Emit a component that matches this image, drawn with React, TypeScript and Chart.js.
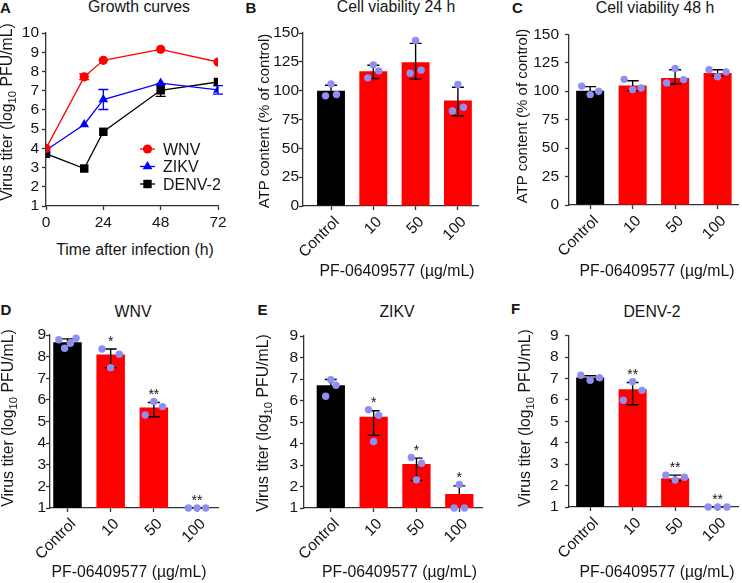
import React, { useEffect, useRef } from 'react';
import { Chart, registerables } from 'chart.js';

Chart.register(...registerables);

const FONT = "'Liberation Sans', Arial, Helvetica, sans-serif";
const TXT = '#151515';
const AXIS = '#333333';
const DOT = '#8f8ff2';
const TICK_SIZE = 15.5;

// ---------- Panel A: growth curves ----------
const hours = [0, 16, 24, 48, 72];
const wnvTiter = [4.0, 7.72, 8.58, 9.15, 8.49];
const wnvSd = [0.05, 0.15, 0.05, 0.05, 0.05];
const zikvTiter = [3.9, 5.24, 6.54, 7.39, 7.04];
const zikvSd = [0.05, 0.08, 0.52, 0.08, 0.22];
const denvTiter = [3.72, 2.95, 4.86, 7.02, 7.45];
const denvSd = [0.05, 0.05, 0.05, 0.32, 0.08];
const seriesNames = ['WNV', 'ZIKV', 'DENV-2'];
const seriesColors = ['#ff0000', '#0000ff', '#000000'];

// ---------- bar panels ----------
const doseLabels = ['Control', '10', '50', '100'];
const barColors = ['#000000', '#ff0000', '#ff0000', '#ff0000'];

const viab24Mean = [100, 116.9, 124.7, 91.4];
const viab24Low = [95.3, 110.5, 110, 78.3];
const viab24High = [104.7, 122.1, 141, 103];
const viab24Dots = [[95.5, 105.9, 96.6], [111.1, 122.4, 117.2], [115.2, 143.6, 117.8], [82.4, 105.3, 85.6]];

const viab48Mean = [100.3, 104.9, 111.6, 116.0];
const viab48Low = [96.7, 100.5, 106.3, 113.3];
const viab48High = [104, 109.2, 118.8, 118.8];
const viab48Dots = [[104.5, 97, 100], [110.4, 101.4, 102.8], [107.3, 120, 110.2], [118.8, 112.7, 117]];

const wnvMean = [8.66, 8.1, 5.65, 1];
const wnvLow = [8.5, 7.49, 5.22, 1];
const wnvHigh = [8.82, 8.35, 5.88, 1];
const wnvDots = [[8.78, 8.39, 8.62, 8.85], [8.35, 7.49, 8.11], [5.3, 5.93, 5.69], [1, 1, 1]];
const wnvStars = ['', '*', '**', '**'];

const zikvMean = [6.71, 5.25, 3.05, 1.65];
const zikvLow = [6.44, 4.38, 2.28, 1.65];
const zikvHigh = [6.98, 5.52, 3.32, 2.03];
const zikvDots = [[6.2, 6.97, 6.71], [5.57, 4.09, 5.31], [3.35, 2.31, 3.08], [1.0, 2.09, 1.0]];
const zikvStars = ['', '*', '*', '*'];

const denvMean = [7.05, 6.5, 2.34, 1];
const denvLow = [6.89, 5.78, 2.23, 1];
const denvHigh = [7.13, 6.82, 2.49, 1];
const denvDots = [[7.16, 6.92, 7.04], [5.99, 6.85, 6.45], [2.49, 2.26, 2.39], [1, 1, 1]];
const denvStars = ['', '**', '**', '**'];

const titerTicks = { min: 1, max: 9, step: 1 };
const atpTicks = { min: 0, max: 150, step: 25 };

type Geo = { l: number; t: number; r: number; b: number; yW: number; xH: number; rp: number; yPad: number };
const TOPPAD = 14;

function rectOf(g: Geo) {
  const left = g.l - g.yW;
  const top = g.t - TOPPAD;
  return { left, top, width: g.r + g.rp - left, height: g.b + g.xH - top };
}

function axisStyle(extra: any = {}) {
  return {
    grid: { display: true, drawOnChartArea: false, drawTicks: true, tickLength: 4, tickColor: AXIS, tickWidth: 1.3, offset: false },
    border: { display: true, color: AXIS, width: 1.3 },
    ...extra,
  };
}

// ---------- Panel A component ----------
function GrowthPanel({ geo }: { geo: Geo }) {
  const ref = useRef<HTMLCanvasElement | null>(null);
  const rc = rectOf(geo);
  useEffect(() => {
    if (!ref.current) return;
    const values = [wnvTiter, zikvTiter, denvTiter];
    const sds = [wnvSd, zikvSd, denvSd];
    const styles = ['circle', 'triangle', 'rect'];
    const radii = [4.6, 5.6, 6];
    const errPlugin = {
      id: 'growthErr',
      beforeDatasetsDraw(chart: any) {
        const { ctx } = chart;
        const x = chart.scales.x, y = chart.scales.y;
        ctx.save();
        ctx.lineWidth = 1.3;
        values.forEach((vals, s) => {
          ctx.strokeStyle = seriesColors[s];
          vals.forEach((v, i) => {
            const sd = sds[s][i];
            if (sd < 0.1) return;
            const px = x.getPixelForValue(hours[i]);
            const y1 = y.getPixelForValue(v + sd);
            const y2 = y.getPixelForValue(v - sd);
            ctx.beginPath();
            ctx.moveTo(px, y1); ctx.lineTo(px, y2);
            ctx.moveTo(px - 5, y1); ctx.lineTo(px + 5, y1);
            ctx.moveTo(px - 5, y2); ctx.lineTo(px + 5, y2);
            ctx.stroke();
          });
        });
        ctx.restore();
      },
    };
    const legendPlugin = {
      id: 'growthLegend',
      afterDraw(chart: any) {
        const { ctx, chartArea } = chart;
        const x0 = chartArea.left + 94;
        const rowsY = [116, 133.5, 151].map((d) => chartArea.top + d);
        ctx.save();
        seriesNames.forEach((name, s) => {
          const cy = rowsY[s];
          const col = seriesColors[s];
          ctx.strokeStyle = col; ctx.fillStyle = col; ctx.lineWidth = 1.3;
          ctx.beginPath(); ctx.moveTo(x0, cy); ctx.lineTo(x0 + 15, cy); ctx.stroke();
          const mx = x0 + 7.5;
          ctx.beginPath();
          if (s === 0) ctx.arc(mx, cy, 4.6, 0, Math.PI * 2);
          else if (s === 1) {
            const r = 5.6;
            ctx.moveTo(mx, cy - r);
            ctx.lineTo(mx + r * 0.866, cy + r * 0.5);
            ctx.lineTo(mx - r * 0.866, cy + r * 0.5);
            ctx.closePath();
          } else ctx.rect(mx - 4.2, cy - 4.2, 8.4, 8.4);
          ctx.fill();
          ctx.fillStyle = TXT;
          ctx.font = `16px ${FONT}`;
          ctx.textBaseline = 'alphabetic';
          ctx.textAlign = 'left';
          ctx.fillText(name, x0 + 23, cy + 5.7);
        });
        ctx.restore();
      },
    };
    const chart = new Chart(ref.current, {
      type: 'line',
      data: {
        datasets: values.map((vals, s) => ({
          label: seriesNames[s],
          data: vals.map((v, i) => ({ x: hours[i], y: v })),
          borderColor: seriesColors[s],
          backgroundColor: seriesColors[s],
          borderWidth: 1.3,
          pointStyle: styles[s] as any,
          pointRadius: radii[s],
          pointBorderWidth: 0,
          tension: 0,
        })),
      },
      options: {
        responsive: false,
        animation: false,
        devicePixelRatio: 1,
        layout: { padding: { left: 0, top: TOPPAD, right: geo.rp, bottom: 0 } },
        plugins: { legend: { display: false }, tooltip: { enabled: false } },
        scales: {
          x: axisStyle({
            type: 'linear', min: 0, max: 72,
            afterFit: (s: any) => { s.height = geo.xH; },
            ticks: { stepSize: 24, autoSkip: false, font: { family: FONT, size: TICK_SIZE }, color: TXT, padding: 3, maxRotation: 0 },
          }),
          y: axisStyle({
            min: 1, max: 10,
            afterFit: (s: any) => { s.width = geo.yW; },
            ticks: { stepSize: 1, autoSkip: false, font: { family: FONT, size: TICK_SIZE }, color: TXT, padding: geo.yPad },
          }),
        },
      } as any,
      plugins: [errPlugin, legendPlugin],
    });
    return () => chart.destroy();
  }, []);
  return (
    <canvas ref={ref} width={rc.width} height={rc.height}
      style={{ position: 'absolute', left: rc.left, top: rc.top, width: rc.width, height: rc.height }} />
  );
}

// ---------- Bar panel component ----------
type BarProps = {
  geo: Geo; xmin: number; xmax: number; jitter: number;
  mean: number[]; low: number[]; high: number[]; dots: number[][]; stars?: string[];
  yr: { min: number; max: number; step: number };
};

function BarPanel(p: BarProps) {
  const ref = useRef<HTMLCanvasElement | null>(null);
  const rc = rectOf(p.geo);
  useEffect(() => {
    if (!ref.current) return;
    const dotR = 3.7;
    const dotPts: { x: number; y: number }[] = [];
    p.dots.forEach((grp, i) => {
      const n = grp.length;
      grp.forEach((v, k) => {
        const off = n > 1 ? -p.jitter + (2 * p.jitter * k) / (n - 1) : 0;
        dotPts.push({ x: i + off, y: v });
      });
    });
    const errPlugin = {
      id: 'barErr',
      afterDatasetDraw(chart: any, args: any) {
        if (args.index !== 0) return;
        const { ctx } = chart;
        const x = chart.scales.x, y = chart.scales.y;
        ctx.save();
        ctx.strokeStyle = '#000';
        ctx.lineWidth = 1.4;
        p.mean.forEach((m, i) => {
          const px = x.getPixelForValue(i);
          const ym = y.getPixelForValue(m);
          const yh = y.getPixelForValue(p.high[i]);
          ctx.beginPath();
          ctx.moveTo(px, ym); ctx.lineTo(px, yh);
          ctx.moveTo(px - 6, yh); ctx.lineTo(px + 6, yh);
          if (p.low[i] < m) {
            const yl = y.getPixelForValue(Math.max(p.low[i], p.yr.min));
            ctx.moveTo(px, ym); ctx.lineTo(px, yl);
            ctx.moveTo(px - 6, yl); ctx.lineTo(px + 6, yl);
          }
          ctx.stroke();
        });
        ctx.restore();
      },
    };
    const starPlugin = {
      id: 'stars',
      afterDraw(chart: any) {
        if (!p.stars) return;
        const { ctx } = chart;
        const x = chart.scales.x, y = chart.scales.y;
        ctx.save();
        ctx.fillStyle = TXT;
        ctx.font = `14px ${FONT}`;
        ctx.textAlign = 'center';
        ctx.textBaseline = 'alphabetic';
        p.stars.forEach((s, i) => {
          if (!s) return;
          const top = Math.min(y.getPixelForValue(p.high[i]), y.getPixelForValue(Math.max(...p.dots[i])) - dotR);
          ctx.fillText(s, x.getPixelForValue(i), top + 1);
        });
        ctx.restore();
      },
    };
    const chart = new Chart(ref.current, {
      type: 'bar',
      data: {
        datasets: [
          {
            type: 'bar',
            data: p.mean.map((v, i) => ({ x: i, y: v })),
            backgroundColor: barColors,
            borderWidth: 0,
            barPercentage: 0.66,
            categoryPercentage: 1,
            order: 2,
          } as any,
          {
            type: 'scatter',
            data: dotPts,
            backgroundColor: DOT,
            borderWidth: 0,
            pointRadius: dotR,
            clip: false,
            order: 1,
          } as any,
        ],
      },
      options: {
        responsive: false,
        animation: false,
        devicePixelRatio: 1,
        layout: { padding: { left: 0, top: TOPPAD, right: p.geo.rp, bottom: 0 } },
        plugins: { legend: { display: false }, tooltip: { enabled: false } },
        scales: {
          x: axisStyle({
            type: 'linear', min: p.xmin, max: p.xmax, offset: false,
            afterBuildTicks: (s: any) => { s.ticks = doseLabels.map((_, i) => ({ value: i })); },
            afterFit: (s: any) => { s.height = p.geo.xH; },
            ticks: {
              callback: (v: any) => doseLabels[v] ?? '',
              autoSkip: false,
              minRotation: 45, maxRotation: 45,
              labelOffset: 6,
              font: { family: FONT, size: TICK_SIZE }, color: TXT, padding: 3,
            },
          }),
          y: axisStyle({
            min: p.yr.min, max: p.yr.max,
            afterFit: (s: any) => { s.width = p.geo.yW; },
            ticks: { stepSize: p.yr.step, autoSkip: false, font: { family: FONT, size: TICK_SIZE }, color: TXT, padding: p.geo.yPad },
          }),
        },
      } as any,
      plugins: [errPlugin, starPlugin],
    });
    return () => chart.destroy();
  }, []);
  return (
    <canvas ref={ref} width={rc.width} height={rc.height}
      style={{ position: 'absolute', left: rc.left, top: rc.top, width: rc.width, height: rc.height }} />
  );
}

// ---------- text helpers ----------
function Label(props: { x: number; base: number; size?: number; bold?: boolean; center?: boolean; children: any }) {
  const size = props.size ?? 15.8;
  return (
    <div style={{
      position: 'absolute', left: props.x, top: props.base - 0.8465 * size,
      fontSize: size, lineHeight: `${size}px`, fontFamily: FONT,
      fontWeight: props.bold ? 700 : 400, whiteSpace: 'nowrap', color: TXT,
      transform: props.center ? 'translateX(-50%)' : undefined,
    }}>{props.children}</div>
  );
}

function VLabel(props: { cx: number; cy: number; size?: number; children: any }) {
  const size = props.size ?? 15.8;
  return (
    <div style={{
      position: 'absolute', left: props.cx, top: props.cy,
      fontSize: size, lineHeight: `${size}px`, fontFamily: FONT, whiteSpace: 'nowrap', color: TXT,
      transform: 'translate(-50%, -50%) rotate(-90deg)',
    }}>{props.children}</div>
  );
}

const TiterTitle = () => (
  <>Virus titer (log<span style={{ fontSize: '0.72em', verticalAlign: '-0.3em', lineHeight: 0 }}>10</span> PFU/mL)</>
);

const DOSE_TITLE = 'PF-06409577 (µg/mL)';

export default function App() {
  return (
    <div style={{ position: 'absolute', left: 0, top: 0, width: 742, height: 583, overflow: 'hidden', background: '#fff' }}>
      <GrowthPanel geo={{ l: 46, t: 33, r: 218, b: 206, yW: 46, xH: 30, rp: 16, yPad: 3 }} />
      <BarPanel geo={{ l: 303, t: 33, r: 478, b: 206, yW: 56, xH: 62, rp: 6, yPad: 0 }} xmin={-0.662} xmax={3.475} jitter={0.13}
        mean={viab24Mean} low={viab24Low} high={viab24High} dots={viab24Dots} yr={atpTicks} />
      <BarPanel geo={{ l: 569, t: 33, r: 741, b: 205, yW: 60, xH: 62, rp: 1, yPad: 6 }} xmin={-0.498} xmax={3.48} jitter={0.2}
        mean={viab48Mean} low={viab48Low} high={viab48High} dots={viab48Dots} yr={atpTicks} />
      <BarPanel geo={{ l: 50, t: 335, r: 218, b: 508, yW: 40, xH: 58, rp: 10, yPad: 0 }} xmin={-0.405} xmax={3.486} jitter={0.2}
        mean={wnvMean} low={wnvLow} high={wnvHigh} dots={wnvDots} stars={wnvStars} yr={titerTicks} />
      <BarPanel geo={{ l: 304, t: 336, r: 482, b: 508, yW: 40, xH: 58, rp: 6, yPad: 2 }} xmin={-0.626} xmax={3.53} jitter={0.12}
        mean={zikvMean} low={zikvLow} high={zikvHigh} dots={zikvDots} stars={zikvStars} yr={titerTicks} />
      <BarPanel geo={{ l: 569, t: 334, r: 741, b: 507, yW: 40, xH: 58, rp: 1, yPad: 6.5 }} xmin={-0.498} xmax={3.48} jitter={0.22}
        mean={denvMean} low={denvLow} high={denvHigh} dots={denvDots} stars={denvStars} yr={titerTicks} />

      <Label x={0} base={12.7} size={15} bold>A</Label>
      <Label x={245.5} base={12.5} size={15} bold>B</Label>
      <Label x={512} base={12.5} size={15} bold>C</Label>
      <Label x={0.5} base={315} size={15} bold>D</Label>
      <Label x={257.5} base={315} size={15} bold>E</Label>
      <Label x={511} base={314} size={15} bold>F</Label>

      <Label x={139} base={12.7} center>Growth curves</Label>
      <Label x={396} base={12.7} center>Cell viability 24 h</Label>
      <Label x={655} base={13} center>Cell viability 48 h</Label>
      <Label x={133} base={317} center>WNV</Label>
      <Label x={397} base={317} center>ZIKV</Label>
      <Label x={652} base={317} center>DENV-2</Label>

      <Label x={135} base={255} center>Time after infection (h)</Label>
      <Label x={397} base={276.5} center>{DOSE_TITLE}</Label>
      <Label x={657} base={276.5} center>{DOSE_TITLE}</Label>
      <Label x={129} base={577.5} center>{DOSE_TITLE}</Label>
      <Label x={399.5} base={577.5} center>{DOSE_TITLE}</Label>
      <Label x={657} base={577.5} center>{DOSE_TITLE}</Label>

      <VLabel cx={7} cy={112}><TiterTitle /></VLabel>
      <VLabel cx={263.3} cy={121} size={15}>ATP content (% of control)</VLabel>
      <VLabel cx={521} cy={116} size={15}>ATP content (% of control)</VLabel>
      <VLabel cx={8.3} cy={417.5}><TiterTitle /></VLabel>
      <VLabel cx={263.3} cy={423.3}><TiterTitle /></VLabel>
      <VLabel cx={525} cy={418.3}><TiterTitle /></VLabel>
    </div>
  );
}
